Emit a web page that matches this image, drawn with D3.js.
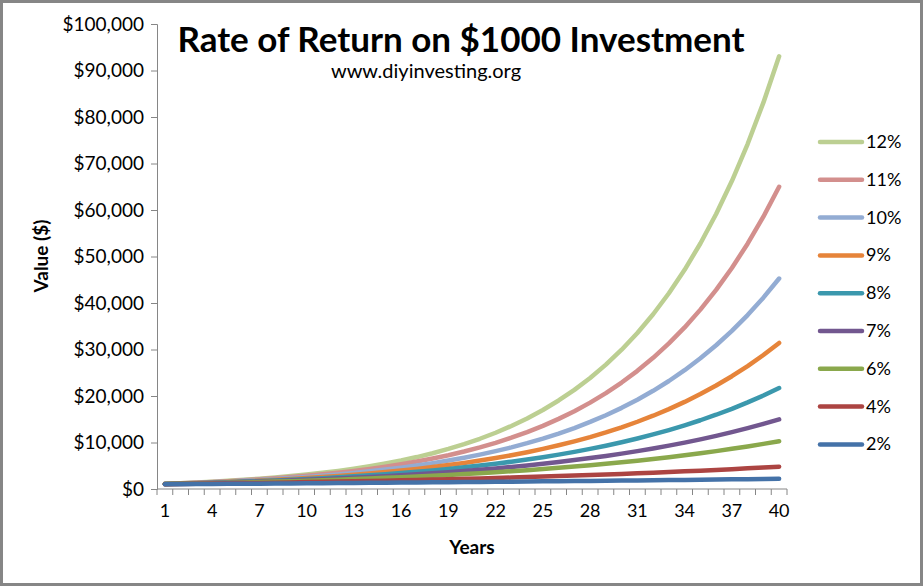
<!DOCTYPE html>
<html>
<head>
<meta charset="utf-8">
<script src="https://cdn.jsdelivr.net/npm/d3@7"></script>
<style>
  body { margin: 0; background: #fff; }
  svg text { font-family: Lato, "Open Sans", sans-serif; fill: #000; }
</style>
</head>
<body>
<script>
// years on the x axis
var years = d3.range(1, 41);
var yTicks = [0, 10000, 20000, 30000, 40000, 50000, 60000, 70000, 80000, 90000, 100000];
var xTickLabels = [1, 4, 7, 10, 13, 16, 19, 22, 25, 28, 31, 34, 37, 40];

// value of $1000 at the end of each year
var r12 = [1120, 1254, 1405, 1574, 1762, 1974, 2211, 2476, 2773, 3106, 3479, 3896, 4363, 4887, 5474, 6130, 6866, 7690, 8613, 9646,
           10804, 12100, 13552, 15179, 17000, 19040, 21325, 23884, 26750, 29960, 33555, 37582, 42092, 47143, 52800, 59136, 66232, 74180, 83081, 93051];
var r11 = [1110, 1232, 1368, 1518, 1685, 1870, 2076, 2305, 2558, 2839, 3152, 3498, 3883, 4310, 4785, 5311, 5895, 6544, 7263, 8062,
           8949, 9934, 11026, 12239, 13585, 15080, 16739, 18580, 20624, 22892, 25410, 28206, 31308, 34752, 38575, 42818, 47528, 52756, 58559, 65001];
var r10 = [1100, 1210, 1331, 1464, 1611, 1772, 1949, 2144, 2358, 2594, 2853, 3138, 3452, 3797, 4177, 4595, 5054, 5560, 6116, 6727,
           7400, 8140, 8954, 9850, 10835, 11918, 13110, 14421, 15863, 17449, 19194, 21114, 23225, 25548, 28102, 30913, 34004, 37404, 41145, 45259];
var r9  = [1090, 1188, 1295, 1412, 1539, 1677, 1828, 1993, 2172, 2367, 2580, 2813, 3066, 3342, 3642, 3970, 4328, 4717, 5142, 5604,
           6109, 6659, 7258, 7911, 8623, 9399, 10245, 11167, 12172, 13268, 14462, 15763, 17182, 18728, 20414, 22251, 24254, 26437, 28816, 31409];
var r8  = [1080, 1166, 1260, 1360, 1469, 1587, 1714, 1851, 1999, 2159, 2332, 2518, 2720, 2937, 3172, 3426, 3700, 3996, 4316, 4661,
           5034, 5437, 5871, 6341, 6848, 7396, 7988, 8627, 9317, 10063, 10868, 11737, 12676, 13690, 14785, 15968, 17246, 18625, 20115, 21725];
var r7  = [1070, 1145, 1225, 1311, 1403, 1501, 1606, 1718, 1838, 1967, 2105, 2252, 2410, 2579, 2759, 2952, 3159, 3380, 3617, 3870,
           4141, 4430, 4741, 5072, 5427, 5807, 6214, 6649, 7114, 7612, 8145, 8715, 9325, 9978, 10677, 11424, 12224, 13079, 13995, 14974];
var r6  = [1060, 1124, 1191, 1262, 1338, 1419, 1504, 1594, 1689, 1791, 1898, 2012, 2133, 2261, 2397, 2540, 2693, 2854, 3026, 3207,
           3400, 3604, 3820, 4049, 4292, 4549, 4822, 5112, 5418, 5743, 6088, 6453, 6841, 7251, 7686, 8147, 8636, 9154, 9704, 10286];
var r4  = [1040, 1082, 1125, 1170, 1217, 1265, 1316, 1369, 1423, 1480, 1539, 1601, 1665, 1732, 1801, 1873, 1948, 2026, 2107, 2191,
           2279, 2370, 2465, 2563, 2666, 2772, 2883, 2999, 3119, 3243, 3373, 3508, 3648, 3794, 3946, 4104, 4268, 4439, 4616, 4801];
var r2  = [1020, 1040, 1061, 1082, 1104, 1126, 1149, 1172, 1195, 1219, 1243, 1268, 1294, 1319, 1346, 1373, 1400, 1428, 1457, 1486,
           1516, 1546, 1577, 1608, 1641, 1673, 1707, 1741, 1776, 1811, 1848, 1885, 1922, 1961, 2000, 2040, 2081, 2122, 2165, 2208];

var seriesNames = ['12%', '11%', '10%', '9%', '8%', '7%', '6%', '4%', '2%'];
var seriesValues = [r12, r11, r10, r9, r8, r7, r6, r4, r2];
var colors = ['#bccf92', '#d38f8d', '#93acd3', '#e6843a', '#3b98ad', '#72578f', '#8aa84c', '#ac4442', '#4472a8'];

var W = 923, H = 586;
var svg = d3.select('body').append('svg').attr('width', W).attr('height', H);

// outer frame
svg.append('rect').attr('x', 1.5).attr('y', 1.5).attr('width', W - 3).attr('height', H - 3)
   .attr('fill', '#fff').attr('stroke', '#868686').attr('stroke-width', 3);

// plot area (note: "top" is taken by window.top)
var pLeft = 157, pRight = 787, pTop = 24, pBottom = 489;

var x = d3.scaleBand().domain(years).range([pLeft, pRight]);
var y = d3.scaleLinear().domain([0, 100000]).range([pBottom, pTop]);

// y axis
var yAxis = svg.append('g').attr('transform', 'translate(' + pLeft + ',0)')
   .call(d3.axisLeft(y).tickValues(yTicks).tickSize(6).tickPadding(7)
   .tickFormat(function(d) { return '$' + d3.format(',')(d); }));
yAxis.selectAll('text').style('font-size', '19px');
yAxis.select('.domain').attr('stroke', '#868686');
yAxis.selectAll('.tick line').attr('stroke', '#868686');

// x axis: ticks on category boundaries, labels every third year
var xg = svg.append('g');
xg.append('line').attr('x1', pLeft).attr('x2', pRight).attr('y1', pBottom).attr('y2', pBottom);
xg.selectAll('line.tk').data(d3.range(0, 41)).enter().append('line')
   .attr('class', 'tk')
   .attr('x1', function(i) { return pLeft + i * x.step(); })
   .attr('x2', function(i) { return pLeft + i * x.step(); })
   .attr('y1', pBottom).attr('y2', pBottom + 6);
xg.selectAll('line').attr('stroke', '#868686').attr('stroke-width', 1);
xg.selectAll('text').data(xTickLabels).enter().append('text')
   .attr('x', function(d) { return x(d) + x.bandwidth() / 2; })
   .attr('y', 517)
   .attr('text-anchor', 'middle')
   .style('font-size', '18px')
   .text(function(d) { return d; });

// lines, 12% first so the low rates are drawn on top
var line = d3.line()
   .x(function(d, i) { return x(years[i]) + x.bandwidth() / 2; })
   .y(function(d) { return y(d); });

svg.selectAll('path.series').data(seriesValues).enter().append('path')
   .attr('class', 'series')
   .attr('d', line)
   .attr('fill', 'none')
   .attr('stroke', function(d, i) { return colors[i]; })
   .attr('stroke-width', 4.5)
   .attr('stroke-linecap', 'round')
   .attr('stroke-linejoin', 'round');

// legend
var lg = svg.selectAll('g.leg').data(seriesNames).enter().append('g')
   .attr('class', 'leg')
   .attr('transform', function(d, i) { return 'translate(820,' + (142 + i * 37.8) + ')'; });
lg.append('line').attr('x1', 0).attr('x2', 42).attr('y1', 0).attr('y2', 0)
   .attr('stroke', function(d, i) { return colors[i]; })
   .attr('stroke-width', 4.5).attr('stroke-linecap', 'round');
lg.append('text').attr('x', 46).attr('y', 6).style('font-size', '18px').text(function(d) { return d; });

// titles
svg.append('text').attr('x', 461).attr('y', 52).attr('text-anchor', 'middle')
   .style('font-size', '35px').style('font-weight', 'bold')
   .text('Rate of Return on $1000 Investment');
svg.append('text').attr('x', 426).attr('y', 78).attr('text-anchor', 'middle')
   .style('font-size', '20px')
   .text('www.diyinvesting.org');
svg.append('text').attr('x', 472).attr('y', 554).attr('text-anchor', 'middle')
   .style('font-size', '19px').style('font-weight', 'bold')
   .text('Years');
svg.append('text').attr('transform', 'translate(48,256) rotate(-90)').attr('text-anchor', 'middle')
   .style('font-size', '19px').style('font-weight', 'bold')
   .text('Value ($)');
</script>
</body>
</html>
